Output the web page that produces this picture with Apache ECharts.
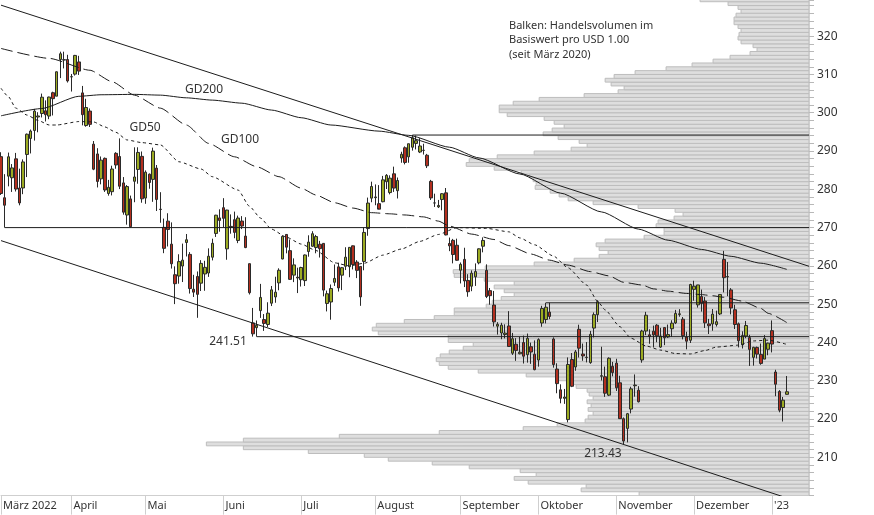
<!DOCTYPE html>
<html>
<head>
<meta charset="utf-8">
<script src="https://cdn.jsdelivr.net/npm/echarts/dist/echarts.min.js"></script>
<style>
html,body{margin:0;padding:0;background:#fff;}
#chart{width:874px;height:515px;}
</style>
</head>
<body>
<div id="chart"></div>
<script>
// ---------- DATA ----------
// daily candles: [date, open, high, low, close]
const candlesMar = [
 ['2022-03-07',288.53,289.69,278.53,278.91],['2022-03-08',277.80,283.96,270.00,275.85],
 ['2022-03-09',283.44,289.60,280.78,288.50],['2022-03-10',283.02,286.60,279.32,285.59],
 ['2022-03-11',287.96,289.51,279.43,280.07],['2022-03-14',280.34,285.40,275.82,276.44],
 ['2022-03-15',280.35,287.82,278.73,287.15],['2022-03-16',289.11,294.57,283.20,294.39],
 ['2022-03-17',293.29,295.61,289.37,295.22],['2022-03-18',295.37,301.00,292.73,300.43],
 ['2022-03-21',298.89,300.14,294.90,299.16],['2022-03-22',299.80,305.00,298.77,304.06],
 ['2022-03-23',300.51,303.23,297.72,299.49],['2022-03-24',299.14,304.20,298.32,304.10],
 ['2022-03-25',305.23,305.50,299.29,303.68],['2022-03-28',304.33,310.80,304.33,310.70],
 ['2022-03-29',313.91,315.95,309.05,315.41],['2022-03-30',313.76,315.95,311.58,313.86],
 ['2022-03-31',313.90,315.14,307.89,308.31]
];
const candlesApr = [
 ['2022-04-01',309.37,310.13,305.54,309.42],['2022-04-04',310.09,315.11,309.71,314.97],
 ['2022-04-05',313.27,314.87,309.87,310.88],['2022-04-06',305.19,307.00,296.71,299.50],
 ['2022-04-07',296.66,303.65,296.35,301.37],['2022-04-08',300.44,301.12,296.28,296.97],
 ['2022-04-11',291.79,292.61,285.00,285.26],['2022-04-12',289.24,290.74,280.49,282.06],
 ['2022-04-13',282.73,288.58,281.30,287.62],['2022-04-14',288.09,288.31,279.32,279.83],
 ['2022-04-18',278.91,282.46,278.34,280.52],['2022-04-19',279.38,286.17,278.41,285.30],
 ['2022-04-20',289.40,289.70,285.37,286.36],['2022-04-21',288.58,293.30,280.06,280.81],
 ['2022-04-22',281.68,283.20,273.38,274.03],['2022-04-25',273.29,281.11,270.77,280.72],
 ['2022-04-26',277.50,278.36,270.00,270.22],['2022-04-27',282.10,290.97,276.63,283.22],
 ['2022-04-28',285.19,290.98,281.46,289.63],['2022-04-29',288.61,289.88,276.50,277.52]
];
const candlesMay = [
 ['2022-05-02',277.71,284.94,276.22,284.47],['2022-05-03',283.96,284.13,280.15,281.78],
 ['2022-05-04',282.59,290.88,276.73,289.98],['2022-05-05',285.54,286.35,274.34,277.35],
 ['2022-05-06',274.81,279.25,271.27,274.73],['2022-05-09',270.06,272.36,263.32,264.58],
 ['2022-05-10',271.69,273.75,265.07,269.50],['2022-05-11',265.68,271.36,259.30,260.55],
 ['2022-05-12',257.69,259.88,250.02,255.35],['2022-05-13',257.35,263.04,255.35,261.12],
 ['2022-05-16',259.96,265.82,255.78,261.50],['2022-05-17',266.11,268.33,262.46,266.82],
 ['2022-05-18',263.00,263.60,252.77,254.08],['2022-05-19',253.90,257.67,251.88,253.14],
 ['2022-05-20',257.24,258.54,246.44,252.56],['2022-05-23',255.49,261.50,253.43,260.65],
 ['2022-05-24',257.89,261.33,253.50,259.62],['2022-05-25',258.14,264.58,257.13,262.52],
 ['2022-05-26',262.27,267.11,261.43,265.90],['2022-05-27',268.48,273.34,267.56,273.24],
 ['2022-05-31',272.53,274.77,268.93,271.87]
];
const candlesJun = [
 ['2022-06-01',275.20,277.69,270.04,272.42],['2022-06-02',264.45,274.65,261.60,274.58],
 ['2022-06-03',270.31,273.45,268.41,270.02],['2022-06-06',272.06,274.18,267.22,268.75],
 ['2022-06-07',266.64,273.13,265.94,272.50],['2022-06-08',271.71,273.00,269.61,270.41],
 ['2022-06-09',267.78,272.71,264.63,264.79],['2022-06-10',260.58,260.58,252.53,252.99],
 ['2022-06-13',245.11,249.02,241.53,242.26],['2022-06-14',243.86,245.74,241.51,244.49],
 ['2022-06-15',248.31,255.30,246.42,251.76],['2022-06-16',245.98,247.42,243.02,244.97],
 ['2022-06-17',244.70,250.50,244.03,247.65],['2022-06-21',250.26,254.75,249.51,253.74],
 ['2022-06-22',251.89,257.17,250.37,253.13],['2022-06-23',255.57,259.37,253.63,258.86],
 ['2022-06-24',261.81,267.98,261.72,267.70],['2022-06-27',268.21,268.30,263.28,264.89],
 ['2022-06-28',263.98,266.91,256.32,256.48],['2022-06-29',257.59,261.97,255.76,260.26],
 ['2022-06-30',257.05,259.53,252.90,256.83]
];
const candlesJul = [
 ['2022-07-01',256.39,259.77,254.61,259.58],['2022-07-05',256.16,262.98,254.74,262.85],
 ['2022-07-06',263.75,267.99,262.40,266.21],['2022-07-07',265.12,269.06,265.02,268.40],
 ['2022-07-08',264.79,268.10,263.29,267.66],['2022-07-11',265.65,266.53,262.18,264.51],
 ['2022-07-12',265.88,265.94,252.04,253.67],['2022-07-13',250.19,253.55,248.11,252.72],
 ['2022-07-14',250.57,255.14,245.94,254.08],['2022-07-15',255.72,260.37,254.77,256.72],
 ['2022-07-18',259.75,260.84,253.30,254.25],['2022-07-19',257.58,259.72,253.68,259.53],
 ['2022-07-20',259.90,264.87,258.91,262.27],['2022-07-21',259.79,264.89,257.03,264.84],
 ['2022-07-22',265.24,265.33,259.07,260.36],['2022-07-25',261.00,261.50,256.81,258.83],
 ['2022-07-26',259.86,259.88,249.57,251.90],['2022-07-27',261.16,270.05,258.85,268.74],
 ['2022-07-28',269.75,277.84,267.87,276.41],['2022-07-29',277.70,282.00,276.63,280.74]
];
const candlesAug = [
 ['2022-08-01',277.82,281.28,275.84,278.01],['2022-08-02',276.25,281.10,275.06,274.82],
 ['2022-08-03',276.76,283.50,276.61,282.47],['2022-08-04',281.98,283.98,280.08,283.65],
 ['2022-08-05',279.15,283.65,278.68,282.91],['2022-08-08',284.05,285.92,279.32,280.32],
 ['2022-08-09',279.64,283.08,277.61,282.30],['2022-08-10',288.17,289.81,286.94,289.16],
 ['2022-08-11',290.85,291.21,286.51,287.02],['2022-08-12',288.48,291.91,286.94,291.91],
 ['2022-08-15',291.00,294.18,290.11,293.47],['2022-08-16',291.99,294.04,290.42,292.71],
 ['2022-08-17',289.74,293.35,289.47,291.32],['2022-08-18',290.19,291.91,289.08,290.17],
 ['2022-08-19',288.90,289.25,285.56,286.15],['2022-08-22',282.08,282.46,277.22,277.75],
 ['2022-08-23',276.44,278.86,275.40,276.44],['2022-08-24',275.41,277.23,275.11,275.79],
 ['2022-08-25',277.33,279.02,274.52,278.85],['2022-08-26',279.08,280.34,267.98,268.09],
 ['2022-08-29',265.85,267.40,263.85,265.23],['2022-08-30',266.67,267.05,260.66,262.97],
 ['2022-08-31',265.39,267.11,261.33,261.47]
];
const candlesSep = [
 ['2022-09-01',258.87,260.89,255.41,260.40],['2022-09-02',261.70,264.74,254.47,256.06],
 ['2022-09-06',256.20,257.83,251.94,253.25],['2022-09-07',254.70,258.83,253.39,258.09],
 ['2022-09-08',257.16,260.65,254.76,258.52],['2022-09-09',260.80,264.59,260.41,264.46],
 ['2022-09-12',265.14,267.45,263.54,266.65],['2022-09-13',258.84,260.40,251.59,251.99],
 ['2022-09-14',253.53,254.23,249.86,252.22],['2022-09-15',249.77,253.45,244.16,245.38],
 ['2022-09-16',244.26,245.30,242.06,244.74],['2022-09-19',242.47,245.14,240.85,244.52],
 ['2022-09-20',242.07,244.74,241.06,242.45],['2022-09-21',244.31,248.18,238.90,238.95],
 ['2022-09-22',237.19,242.50,236.74,240.98],['2022-09-23',239.54,241.13,235.20,237.92],
 ['2022-09-26',237.05,241.45,236.90,237.45],['2022-09-27',239.98,241.80,234.50,236.41],
 ['2022-09-28',236.81,242.33,234.73,241.07],['2022-09-29',238.89,239.95,234.41,237.50],
 ['2022-09-30',236.93,240.54,232.73,232.90]
];
const candlesOct = [
 ['2022-10-03',235.41,241.08,233.69,240.74],['2022-10-04',245.09,249.58,244.10,248.88],
 ['2022-10-05',245.99,250.36,244.98,249.20],['2022-10-06',247.93,250.35,246.08,246.79],
 ['2022-10-07',240.90,241.32,233.42,234.24],['2022-10-10',233.05,234.56,226.73,229.25],
 ['2022-10-11',227.62,229.06,224.11,225.41],['2022-10-12',225.40,227.86,223.96,225.75],
 ['2022-10-13',219.85,236.09,219.13,234.24],['2022-10-14',235.54,237.24,228.34,228.56],
 ['2022-10-17',233.60,238.02,232.60,237.53],['2022-10-18',243.44,244.64,236.07,238.50],
 ['2022-10-19',236.97,239.71,235.21,236.48],['2022-10-20',236.08,240.10,234.79,236.15],
 ['2022-10-21',234.74,243.01,234.43,242.12],['2022-10-24',243.76,247.84,241.30,247.25],
 ['2022-10-25',247.26,251.04,245.33,250.66],['2022-10-26',231.17,238.88,230.06,231.32],
 ['2022-10-27',231.04,233.69,225.78,226.75],['2022-10-28',226.24,236.12,226.00,235.87],
 ['2022-10-31',233.76,234.92,231.15,232.13]
];
const candlesNov = [
 ['2022-11-01',234.60,235.74,227.33,228.17],['2022-11-02',229.46,231.30,220.04,220.10],
 ['2022-11-03',220.08,220.41,213.43,214.25],['2022-11-04',217.55,221.59,213.90,221.39],
 ['2022-11-07',222.60,228.43,221.48,227.87],['2022-11-08',228.70,231.65,225.84,228.87],
 ['2022-11-09',227.53,228.58,224.33,224.51],['2022-11-10',235.43,243.31,234.71,242.98],
 ['2022-11-11',242.99,247.99,241.93,247.11],['2022-11-14',241.99,243.43,239.66,241.55],
 ['2022-11-15',242.95,244.40,238.70,241.97],['2022-11-16',244.51,244.79,240.06,241.73],
 ['2022-11-17',238.79,243.82,238.57,241.68],['2022-11-18',243.89,243.93,239.30,241.22],
 ['2022-11-21',241.43,244.67,241.19,242.05],['2022-11-22',243.59,245.80,241.46,245.03],
 ['2022-11-23',245.11,248.51,244.80,247.58],['2022-11-25',247.31,248.70,246.73,247.49],
 ['2022-11-28',246.08,246.64,240.80,241.76],['2022-11-29',241.40,242.79,238.21,240.33],
 ['2022-11-30',240.57,255.33,239.86,255.14]
];
const candlesDec = [
 ['2022-12-01',253.87,256.12,250.91,254.69],['2022-12-02',249.82,255.00,249.11,255.02],
 ['2022-12-05',252.01,253.82,248.06,250.20],['2022-12-06',250.82,251.86,243.78,245.12],
 ['2022-12-07',244.83,246.16,242.21,244.37],['2022-12-08',244.84,248.74,243.06,247.40],
 ['2022-12-09',244.70,248.31,244.16,245.42],['2022-12-12',247.45,252.54,247.17,252.51],
 ['2022-12-13',261.69,263.92,253.07,256.92],['2022-12-14',257.13,261.01,252.08,257.22],
 ['2022-12-15',253.72,254.20,247.34,249.01],['2022-12-16',248.55,249.84,243.51,244.69],
 ['2022-12-19',244.86,245.21,238.71,240.45],['2022-12-20',239.40,242.91,238.42,241.80],
 ['2022-12-21',241.69,245.62,241.11,244.43],['2022-12-22',241.26,241.99,233.87,238.19],
 ['2022-12-23',236.11,238.87,233.94,238.73],['2022-12-27',238.70,238.93,235.83,236.96],
 ['2022-12-28',236.89,239.72,234.17,234.53],['2022-12-29',235.65,241.92,235.65,241.01],
 ['2022-12-30',238.21,239.96,236.66,239.82]
];
const candlesJan = [
 ['2023-01-03',243.08,245.75,237.40,239.58],['2023-01-04',232.28,232.87,225.96,229.10],
 ['2023-01-05',227.20,227.55,221.76,222.31],['2023-01-06',223.00,225.76,219.35,224.93],
 ['2023-01-09',226.45,231.24,226.41,227.12]
];
// empty trading days to the right edge of the plot
const padDates = ['2023-01-10','2023-01-11','2023-01-12','2023-01-13','2023-01-17','2023-01-18'];

// moving averages: [date, value]
const gd200 = [
 ['2022-03-07',299.2],['2022-03-22',301.1],['2022-04-05',304.3],['2022-04-13',304.7],
 ['2022-04-27',304.8],['2022-05-06',304.6],['2022-05-17',303.9],['2022-05-26',303.3],
 ['2022-06-08',302.5],['2022-06-21',300.7],['2022-07-01',298.7],['2022-07-14',296.8],
 ['2022-08-02',295.2],['2022-08-12',294.1],['2022-08-29',291.0],['2022-09-09',288.2],
 ['2022-09-26',284.0],['2022-10-11',279.0],['2022-10-26',274.1],['2022-11-09',269.6],
 ['2022-11-21',266.7],['2022-12-05',264.3],['2022-12-15',262.5],['2022-12-28',260.7],
 ['2023-01-09',259.1]
];
const gd100 = [
 ['2022-03-07',316.8],['2022-03-24',314.2],['2022-04-08',311.1],['2022-04-19',308.1],
 ['2022-04-27',304.6],['2022-05-06',301.2],['2022-05-17',296.8],['2022-05-25',292.0],
 ['2022-06-06',288.5],['2022-06-14',285.9],['2022-06-23',283.3],['2022-07-01',280.3],
 ['2022-07-08',278.5],['2022-07-15',276.5],['2022-07-22',275.1],['2022-07-29',273.9],
 ['2022-08-05',273.6],['2022-08-11',273.3],['2022-08-18',272.8],['2022-08-24',271.7],
 ['2022-08-29',270.4],['2022-09-07',268.3],['2022-09-15',266.9],['2022-09-21',265.3],
 ['2022-09-29',263.1],['2022-10-06',261.5],['2022-10-13',260.2],['2022-10-21',258.5],
 ['2022-10-28',257.4],['2022-11-03',255.7],['2022-11-10',255.0],['2022-11-15',254.0],
 ['2022-11-21',253.4],['2022-11-29',252.8],['2022-12-05',252.5],['2022-12-08',252.2],
 ['2022-12-13',251.8],['2022-12-20',250.8],['2022-12-28',248.9],['2022-12-30',247.6],
 ['2023-01-09',245.2]
];
const gd50 = [
 ['2022-03-07',306.4],['2022-03-09',304.2],['2022-03-11',301.2],['2022-03-16',299.4],
 ['2022-03-21',298.0],['2022-03-24',296.8],['2022-03-28',296.8],['2022-04-05',297.7],
 ['2022-04-11',297.6],['2022-04-14',296.3],['2022-04-20',294.9],['2022-04-25',292.9],
 ['2022-04-29',292.2],['2022-05-06',291.6],['2022-05-13',287.2],['2022-05-23',285.3],
 ['2022-05-26',283.3],['2022-06-07',279.8],['2022-06-10',275.6],['2022-06-15',272.5],
 ['2022-06-21',269.6],['2022-06-27',267.5],['2022-07-01',265.7],['2022-07-08',264.0],
 ['2022-07-15',260.8],['2022-07-21',260.0],['2022-07-27',260.7],['2022-08-03',262.8],
 ['2022-08-10',264.4],['2022-08-17',266.4],['2022-08-24',268.2],['2022-08-31',270.0],
 ['2022-09-13',269.8],['2022-09-21',268.9],['2022-09-26',267.3],['2022-09-30',265.5],
 ['2022-10-07',262.6],['2022-10-13',259.5],['2022-10-20',255.0],['2022-10-25',250.7],
 ['2022-10-27',248.5],['2022-11-02',244.1],['2022-11-07',241.1],['2022-11-11',239.1],
 ['2022-11-17',238.0],['2022-11-23',237.1],['2022-11-30',237.0],['2022-12-06',237.9],
 ['2022-12-09',238.8],['2022-12-19',239.3],['2022-12-23',240.4],['2022-12-30',240.6],
 ['2023-01-09',239.5]
];

// trend channel lines: [date, value] end points
const trendUpper = [['2022-03-07',328.1],['2023-01-18',259.9]];
const trendLower = [['2022-03-07',266.6],['2023-01-18',197.5]];
// horizontal support / resistance lines: [start date, level]
const levelLines = [['2022-03-08',270.00],['2022-08-15',294.18],['2022-10-05',250.36],['2022-06-14',241.51]];
// annotated lows: [date, value]
const lowLabels = [['2022-06-14',241.51],['2022-11-03',213.43]];

// volume profile: [price bin (USD 1.00 wide, lower bound), relative volume]
const volumeByPrice = [
 [200,170],[201,228],[202,223],[203,281],[204,295],[205,273],[206,289],[207,340],[208,377],[209,421],
 [210,445],[211,501],[212,566],[213,603],[214,566],[215,470],[216,370],[217,286],[218,252],[219,224],
 [220,221],[221,216],[222,221],[223,218],[224,222],[225,216],[226,220],[227,222],[228,233],[229,238],
 [230,251],[231,283],[232,331],[233,361],[234,370],[235,373],[236,369],[237,360],[238,346],[239,336],
 [240,361],[241,361],[242,431],[243,437],[244,433],[245,405],[246,375],[247,355],[248,355],[249,323],
 [250,317],[251,308],[252,295],[253,305],[254,315],[255,295],[256,325],[257,355],[258,356],[259,324],
 [260,275],[261,235],[262,210],[263,201],[264,210],[265,213],[266,204],[267,165],[268,145],[269,145],
 [270,153],[271,151],[272,135],[273,126],[274,134],[275,171],[276,216],[277,241],[278,250],[279,259],
 [280,274],[281,273],[282,276],[283,280],[284,288],[285,315],[286,343],[287,340],[288,312],[289,275],
 [290,238],[291,222],[292,230],[293,251],[294,266],[295,257],[296,245],[297,255],[298,265],[299,302],
 [300,310],[301,310],[302,296],[303,270],[304,225],[305,191],[306,185],[307,198],[308,204],[309,195],
 [310,174],[311,143],[312,117],[313,96],[314,79],[315,59],[316,52],[317,56],[318,68],[319,71],
 [320,70],[321,68],[322,71],[323,75],[324,75],[325,73],[326,68],[327,71],[328,81],[329,109]
];

// axis tick labels
const monthStarts = ['2022-03-07','2022-04-01','2022-05-02','2022-06-01','2022-07-01','2022-08-01',
 '2022-09-01','2022-10-03','2022-11-01','2022-12-01','2023-01-03'];
const monthLabels = ['März 2022','April','Mai','Juni','Juli','August','September','Oktober','November','Dezember',"'23"];
const priceLabels = [210,220,230,240,250,260,270,280,290,300,310,320];
const noteLines = ['Balken: Handelsvolumen im','Basiswert pro USD 1.00','(seit März 2020)'];
const maNames = ['GD200','GD50','GD100'];

// ---------- CHART ----------
const FONT = '"Noto Sans", "Open Sans", sans-serif';
const candles = [].concat(candlesMar, candlesApr, candlesMay, candlesJun, candlesJul, candlesAug,
  candlesSep, candlesOct, candlesNov, candlesDec, candlesJan);
const dates = candles.map(c => c[0]).concat(padDates);
const idx = d => dates.indexOf(d);
const lastIdx = dates.length - 1;
const ohlc = candles.map(c => [c[1], c[4], c[3], c[2]]); // open, close, low, high
const isMonthStart = (i, v) => monthStarts.indexOf(v) >= 0;

const LINE_COLOR = '#1c1c1c';
function maSeries(points, dash) {
  return {
    type: 'line', xAxisIndex: 0, yAxisIndex: 0, silent: true, z: 6,
    data: points.map(p => [idx(p[0]), p[1]]),
    symbol: 'none', smooth: 0.2, smoothMonotone: 'x',
    lineStyle: { color: LINE_COLOR, width: 1, type: dash }
  };
}
function straightSeries(points) {
  return {
    type: 'line', xAxisIndex: 0, yAxisIndex: 0, silent: true, z: 6,
    data: points, symbol: 'none',
    lineStyle: { color: LINE_COLOR, width: 1, type: 'solid' }
  };
}

const maLabelPos = [[185, 89.5], [129.5, 128], [221, 139.5]];
const lowLabelOffset = [[-10, 5], [-2, 9]];

const chart = echarts.init(document.getElementById('chart'), null, { renderer: 'canvas' });
const option = {
  animation: false,
  backgroundColor: '#ffffff',
  textStyle: { fontFamily: FONT },
  title: {
    text: noteLines.join('\n'), left: 509, top: 18.9, padding: 0,
    textStyle: { fontSize: 11, fontWeight: 'normal', color: '#333', lineHeight: 14.3, fontFamily: FONT }
  },
  grid: { left: 0.5, top: 0, width: 808.5, height: 495.6, containLabel: false },
  xAxis: [
    {
      type: 'category', data: dates, boundaryGap: false,
      axisLine: { show: true, lineStyle: { color: '#cfcfcf', width: 1 } },
      axisTick: { show: true, interval: isMonthStart, length: 19, lineStyle: { color: '#cfcfcf' } },
      axisLabel: {
        interval: isMonthStart,
        formatter: v => { const k = monthStarts.indexOf(v); return k >= 0 ? monthLabels[k] : ''; },
        align: 'left', margin: 5, padding: [0, 0, 0, 2], color: '#333', fontSize: 11, fontFamily: FONT
      },
      splitLine: { show: false }
    },
    { type: 'value', gridIndex: 0, inverse: true, min: 0, max: 808.5, show: false }
  ],
  yAxis: {
    type: 'value', position: 'right', min: 200, max: 329.45, interval: 2,
    axisLine: { show: true, lineStyle: { color: '#cfcfcf' } },
    axisTick: { show: true, length: 5, lineStyle: { color: '#b8b8b8' } },
    axisLabel: {
      formatter: v => priceLabels.indexOf(v) >= 0 ? String(v) : '',
      color: '#333', fontSize: 12, margin: 8, fontFamily: FONT
    },
    splitLine: { show: false }
  },
  graphic: maNames.map((t, k) => ({
    type: 'text', x: maLabelPos[k][0], y: maLabelPos[k][1], z: 20, silent: true,
    style: { text: t, font: '12px ' + FONT, fill: '#333', textVerticalAlign: 'middle', verticalAlign: 'middle' }
  })),
  series: [
    {
      type: 'custom', name: 'Volumen', xAxisIndex: 1, yAxisIndex: 0, silent: true, z: 1, clip: true,
      data: volumeByPrice, encode: { x: 1, y: 0 },
      renderItem: function (params, api) {
        const price = api.value(0), vol = api.value(1);
        const a = api.coord([vol, price + 1]);
        const b = api.coord([0, price]);
        return {
          type: 'rect',
          shape: { x: a[0], y: a[1], width: b[0] - a[0], height: b[1] - a[1] },
          style: { fill: '#dedede', stroke: '#bdbdbd', lineWidth: 1 }
        };
      }
    },
    {
      type: 'candlestick', xAxisIndex: 0, yAxisIndex: 0, silent: true, z: 5,
      data: ohlc, barWidth: 3,
      itemStyle: { color: '#9cab22', color0: '#b32f1f', borderColor: '#2a2a2a', borderColor0: '#2a2a2a', borderWidth: 1 }
    },
    maSeries(gd200, 'solid'),
    maSeries(gd100, [12, 5]),
    maSeries(gd50, [3, 3]),
    straightSeries(trendUpper.map(p => [idx(p[0]), p[1]])),
    straightSeries(trendLower.map(p => [idx(p[0]), p[1]])),
    ...levelLines.map(l => straightSeries([[idx(l[0]), l[1]], [lastIdx, l[1]]])),
    {
      type: 'custom', xAxisIndex: 0, yAxisIndex: 0, silent: true, z: 10, clip: false,
      data: lowLabels.map(p => [idx(p[0]), p[1]]),
      renderItem: function (params, api) {
        const p = api.coord([api.value(0), api.value(1)]);
        const off = lowLabelOffset[params.dataIndex];
        return {
          type: 'text', x: p[0] + off[0], y: p[1] + off[1],
          style: {
            text: api.value(1).toFixed(2), font: '12px ' + FONT, fill: '#333',
            textAlign: 'right', align: 'right', textVerticalAlign: 'middle', verticalAlign: 'middle'
          }
        };
      }
    }
  ]
};
chart.setOption(option);
</script>
</body>
</html>
